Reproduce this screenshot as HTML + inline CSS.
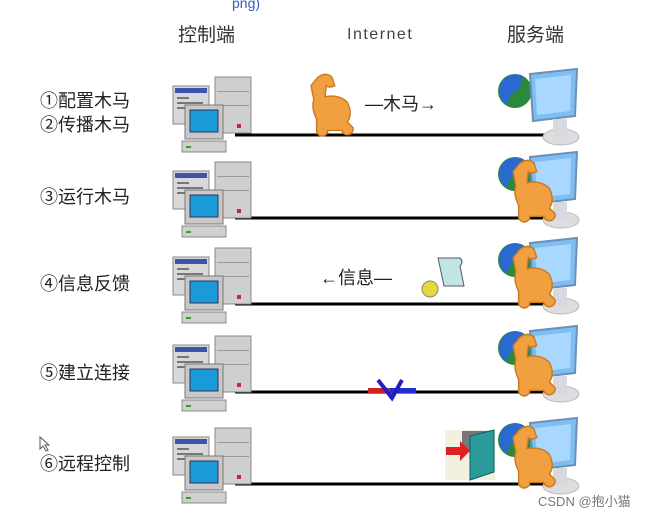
<!DOCTYPE html>
<html><head><meta charset="utf-8"><style>
body{margin:0;background:#fff;width:653px;height:519px;overflow:hidden}
svg{display:block}
text{font-family:"Liberation Sans","Noto Sans CJK SC",sans-serif}
</style></head><body>
<svg width="653" height="519" viewBox="0 0 653 519">
<defs>
<g id="pc">
 <rect x="0" y="9" width="36" height="38" fill="#d8d8d8" stroke="#888"/>
 <rect x="2" y="11" width="32" height="5" fill="#3a55b0"/>
 <rect x="4" y="20" width="12" height="2" fill="#777"/><rect x="4" y="25" width="26" height="2" fill="#777"/><rect x="4" y="30" width="26" height="2" fill="#777"/>
 <rect x="42" y="0" width="36" height="56" fill="#cfcfcf" stroke="#888"/>
 <rect x="44" y="14" width="32" height="1" fill="#999"/><rect x="44" y="28" width="32" height="1" fill="#999"/>
 <rect x="64" y="47" width="4" height="4" fill="#d02040"/>
 <rect x="12" y="28" width="38" height="34" fill="#c8c8c8" stroke="#777"/>
 <rect x="17" y="33" width="28" height="22" fill="#1a9ad8" stroke="#335"/>
 <rect x="9" y="64" width="44" height="11" fill="#d0d0d0" stroke="#888"/>
 <rect x="13" y="69" width="5" height="2" fill="#2a2"/>
</g>
<g id="srv">
 <circle cx="0" cy="0" r="17" fill="#2a8a3a"/>
 <path d="M-14,-8 A17,17 0 0 1 8,-15 L5,-3 L-5,5 L-8,14 A17,17 0 0 1 -14,-8Z" fill="#2a6ad0"/>
 <polygon points="15,-17 62,-22 60,25 18,30" fill="#7fbef0" stroke="#6a8fb8" stroke-width="2"/>
 <polygon points="20,-12 56,-16 55,20 22,24" fill="#a8d8ff"/>
 <ellipse cx="46" cy="46" rx="18" ry="8" fill="#ddd" stroke="#bbb"/>
 <rect x="38" y="28" width="14" height="18" fill="#d8d8e0"/>
</g>
<g id="horse0">
 <path d="M0,-22 q6,-4 10,0 l2,6 q-4,2 -6,0 l-1,8 q10,-2 16,4 q4,8 0,14 l4,4 a4,4 0 0 1 -8,2 l-10,0 a4,4 0 0 1 -8,0 l0,-8 q-4,-8 -2,-14 l-2,-10z" fill="#f0a040" stroke="#c87a20"/>
</g>
<g id="horse"><use href="#horse0" transform="scale(1.4)"/></g>
</defs>

<text x="232" y="8" font-size="14" fill="#2860c0">png)</text>
<text x="178" y="41" font-size="19" fill="#333">控制端</text>
<text x="347" y="39" font-size="16" fill="#444" letter-spacing="1.5" font-family="Liberation Mono">Internet</text>
<text x="507" y="41" font-size="19" fill="#333">服务端</text>

<g font-size="18" fill="#222">
<text x="40" y="107">①配置木马</text>
<text x="40" y="131">②传播木马</text>
<text x="40" y="203">③运行木马</text>
<text x="40" y="290">④信息反馈</text>
<text x="40" y="379">⑤建立连接</text>
<text x="40" y="470">⑥远程控制</text>
</g>

<g stroke="#000" stroke-width="3">
<line x1="235" y1="135" x2="548" y2="135"/>
<line x1="235" y1="218" x2="548" y2="218"/>
<line x1="235" y1="304" x2="548" y2="304"/>
<line x1="235" y1="392" x2="548" y2="392"/>
<line x1="235" y1="484" x2="548" y2="484"/>
</g>

<use href="#pc" x="173" y="77"/>
<use href="#pc" x="173" y="162"/>
<use href="#pc" x="173" y="248"/>
<use href="#pc" x="173" y="336"/>
<use href="#pc" x="173" y="428"/>

<use href="#srv" x="515" y="91"/>
<use href="#srv" x="515" y="174"/>
<use href="#srv" x="515" y="260"/>
<use href="#srv" x="515" y="348"/>
<use href="#srv" x="515" y="440"/>

<use href="#horse" x="520" y="194"/>
<use href="#horse" x="520" y="280"/>
<use href="#horse" x="520" y="368"/>
<use href="#horse" x="520" y="460"/>

<use href="#horse" x="318" y="108"/>
<text x="365" y="110" font-size="18" fill="#222">—木马→</text>

<text x="320" y="284" font-size="18" fill="#222">←信息—</text>
<circle cx="430" cy="289" r="8" fill="#e8d840" stroke="#887"/>
<path d="M438,258 h22 q4,4 0,8 l4,20 h-20 z" fill="#bfe6e0" stroke="#557"/>

<rect x="368" y="388" width="22" height="5" fill="#d02020"/>
<rect x="390" y="388" width="26" height="5" fill="#2030d0"/>
<path d="M378,380 l14,18 l10,-18" stroke="#2020c0" stroke-width="4" fill="none"/>

<rect x="445" y="430" width="50" height="50" fill="#f4f0e0"/>
<rect x="462" y="431" width="32" height="20" fill="#777"/>
<polygon points="470,436 494,430 494,472 470,480" fill="#2a9a9a" stroke="#066"/>
<polygon points="446,447 460,447 460,441 470,451 460,461 460,455 446,455" fill="#e02020"/>

<text x="538" y="506" font-size="13" fill="#777">CSDN @抱小猫</text>
<path d="M40,437 l0,12 l3,-3 l3,5 l2,-1 l-3,-5 l4,0z" fill="#fff" stroke="#555"/>
</svg>
</body></html>
